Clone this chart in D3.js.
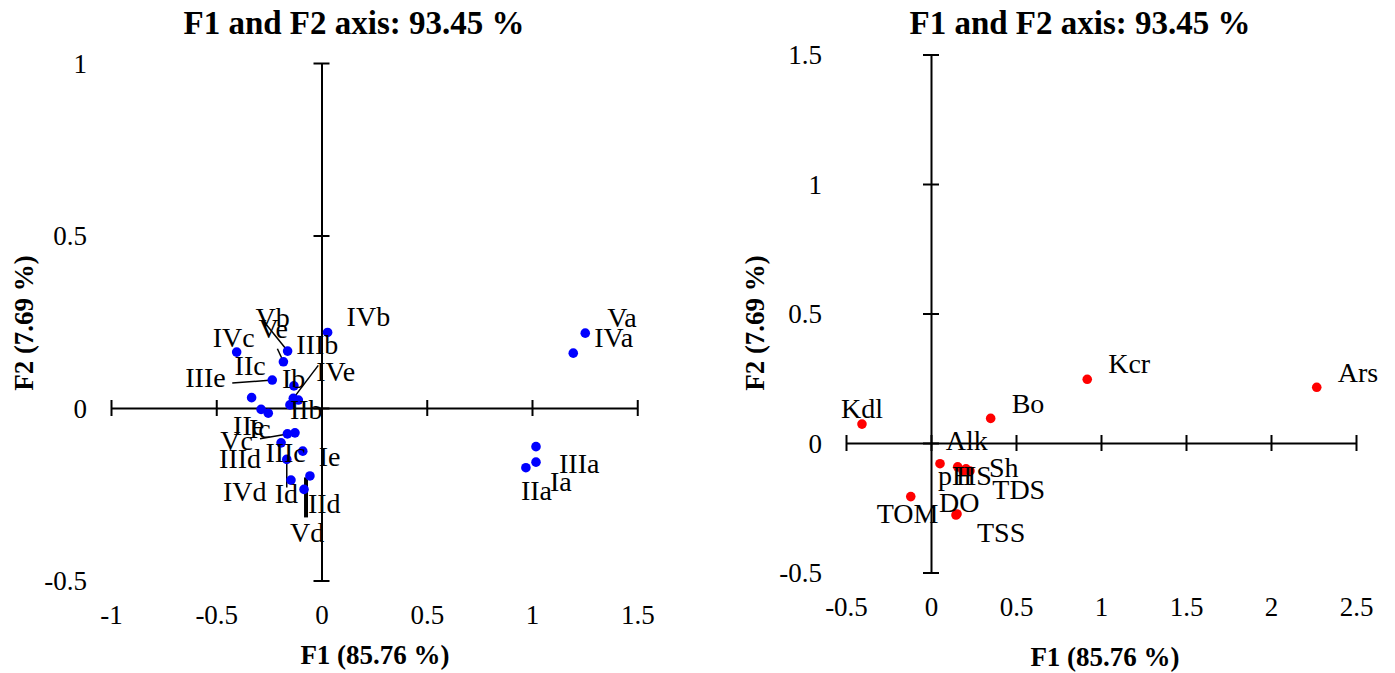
<!DOCTYPE html>
<html>
<head>
<meta charset="utf-8">
<script src="https://cdn.jsdelivr.net/npm/d3@7"></script>
<style>
  body { margin: 0; background: #fff; }
  svg { display: block; font-family: "Liberation Serif", "Times New Roman", serif; }
</style>
</head>
<body>
<svg id="chart" width="1395" height="673"></svg>
<script>
// observations plot (left) - F1 / F2 coordinates
var obsLabels = ["Va", "IVa", "IIIa", "Ia", "IIa", "IVb", "IVc", "Vb", "Ve", "IIIe", "Ib", "IIc", "IVe",
                 "IIIb", "IIb", "IIe", "Vc", "Ic", "IIIc", "IIId", "Ie", "Id", "IId", "IVd", "Vd"];
var obsF1 = [1.253, 1.196, 1.019, 1.019, 0.971, 0.029, -0.403, -0.161, -0.181, -0.234, -0.131, -0.332, -0.134,
             -0.110, -0.150, -0.287, -0.253, -0.126, -0.162, -0.192, -0.089, -0.165, -0.055, -0.145, -0.083];
var obsF2 = [0.217, 0.159, -0.112, -0.157, -0.173, 0.219, 0.162, 0.165, 0.134, 0.081, 0.064, 0.030, 0.028,
             0.023, 0.009, -0.004, -0.015, -0.072, -0.075, -0.101, -0.125, -0.149, -0.197, -0.209, -0.236];

// variables plot (right)
var varLabels = ["Kdl", "Bo", "Kcr", "Ars", "TOM", "pH", "Alk", "HS", "TDS", "Sh", "DO", "TSS"];
var varF1 = [-0.406, 0.351, 0.919, 2.269, -0.119, 0.053, 0.157, 0.206, 0.190, 0.229, 0.147, 0.153];
var varF2 = [0.073, 0.095, 0.246, 0.215, -0.207, -0.080, -0.092, -0.100, -0.108, -0.108, -0.278, -0.274];

var leftXTicks = [-1, -0.5, 0, 0.5, 1, 1.5];
var leftYTicks = [-0.5, 0, 0.5, 1];
var rightXTicks = [-0.5, 0, 0.5, 1, 1.5, 2, 2.5];
var rightYTicks = [-0.5, 0, 0.5, 1, 1.5];

var chartTitle = "F1 and F2 axis: 93.45 %";
var xTitle = "F1 (85.76 %)";
var yTitle = "F2 (7.69 %)";

// label placement (pixel offsets from the point), like the xlstat label layout
var obsLabelPos = {
  Va: [22, -6], IVa: [21, -6], IIIa: [23, 26], Ia: [14, 29], IIa: [-5, 32],
  IVb: [19, -6], IVc: [-24, -5], Vb: [-32, -24], Ve: [-25, -24], IIIe: [-87, 7],
  Ib: [-12, 2], IIc: [-17, -23], IVe: [23, -17], IIIb: [-2, -46], IIb: [0, 14],
  IIe: [-28, 26], Vc: [-48, 37], Ic: [-46, 5], IIIc: [-22, 28], IIId: [-62, 25],
  Ie: [16, 15], Id: [-12, 44], IId: [-2, 37], IVd: [-68, 21], Vd: [-14, 53]
};
// leader lines: [start dx, start dy, end dx, end dy] from the point
var obsLeaders = {
  Vb: [-25, -31, 0, 0], Ve: [-6, -13, 0, 0], IIIe: [-40, 3, 0, 0], IVe: [25, -33, 0, 0],
  Ic: [-35, 6, 0, 0], Id: [0, 28, 0, 0], Vd: [2, 28, 2, -12]
};
var varLabelPos = {
  Kdl: [-21, -6], Bo: [21, -5], Kcr: [21, -6], Ars: [21, -5], TOM: [-34, 26],
  pH: [-2, 21], Alk: [-12, -17], HS: [-10, 16], TDS: [29, 28], Sh: [19, 6],
  DO: [-17, -3], TSS: [20, 28]
};

var svg = d3.select("#chart");
svg.append("rect").attr("width", 1395).attr("height", 673).attr("fill", "#fff");

function fmt(d) { return String(d); }

function drawPanel(opt) {
  var x = d3.scaleLinear().domain(opt.xDomain).range(opt.xRange);
  var y = d3.scaleLinear().domain(opt.yDomain).range(opt.yRange);
  var g = svg.append("g");

  // horizontal axis through F2 = 0
  var xAxis = g.append("g")
    .attr("transform", "translate(0," + y(0) + ")")
    .call(d3.axisBottom(x).tickValues(opt.xTicks).tickFormat(fmt).tickSizeOuter(0));
  xAxis.selectAll(".tick line").attr("y1", -8).attr("y2", 8);
  xAxis.selectAll(".tick text").attr("y", opt.xLabelY - y(0)).attr("dy", "0.35em");

  // vertical axis through F1 = 0
  var yAxis = g.append("g")
    .attr("transform", "translate(" + x(0) + ",0)")
    .call(d3.axisLeft(y).tickValues(opt.yTicks).tickFormat(fmt).tickSizeOuter(0));
  yAxis.selectAll(".tick line").attr("x1", -8).attr("x2", 8);
  yAxis.selectAll(".tick text").attr("x", opt.yLabelX - x(0)).attr("dy", "0.35em");

  [xAxis, yAxis].forEach(function(a) {
    a.attr("font-family", null).attr("font-size", null);
    a.selectAll("path, line").attr("stroke", "#000").attr("stroke-width", 2);
    a.selectAll("text").attr("fill", "#000").style("font-size", "27px");
  });

  // titles
  g.append("text").attr("x", opt.cx).attr("y", 34).attr("text-anchor", "middle")
    .style("font-size", "33px").style("font-weight", "bold").text(chartTitle);
  g.append("text").attr("x", opt.xTitleX).attr("y", opt.xTitleY).attr("text-anchor", "middle")
    .attr("dy", "0.35em").style("font-size", "27px").style("font-weight", "bold").text(xTitle);
  g.append("text").attr("transform", "translate(" + opt.yTitleX + "," + opt.yTitleY + ") rotate(-90)")
    .attr("text-anchor", "middle").attr("dy", "0.35em")
    .style("font-size", "27px").style("font-weight", "bold").text(yTitle);

  var pts = opt.labels.map(function(l, i) { return { label: l, f1: opt.f1[i], f2: opt.f2[i] }; });

  // leader lines
  g.selectAll(".leader").data(pts.filter(function(d) { return opt.leaders && opt.leaders[d.label]; }))
    .enter().append("line")
    .attr("x1", function(d) { return x(d.f1) + opt.leaders[d.label][0]; })
    .attr("y1", function(d) { return y(d.f2) + opt.leaders[d.label][1]; })
    .attr("x2", function(d) { return x(d.f1) + opt.leaders[d.label][2]; })
    .attr("y2", function(d) { return y(d.f2) + opt.leaders[d.label][3]; })
    .attr("stroke", "#000").attr("stroke-width", function(d) {
      return d.label == "Vd" ? 4 : 1.5;
    });

  g.selectAll(".pt").data(pts).enter().append("circle")
    .attr("cx", function(d) { return x(d.f1); })
    .attr("cy", function(d) { return y(d.f2); })
    .attr("r", 4.8)
    .attr("fill", opt.color);

  g.selectAll(".lbl").data(pts).enter().append("text")
    .attr("x", function(d) { return x(d.f1) + opt.labelPos[d.label][0]; })
    .attr("y", function(d) { return y(d.f2) + opt.labelPos[d.label][1]; })
    .style("font-size", "28px")
    .text(function(d) { return d.label; });
}

drawPanel({
  xDomain: [-1, 1.5], xRange: [111, 637.25],
  yDomain: [-0.5, 1], yRange: [580.5, 63],
  xTicks: leftXTicks, yTicks: leftYTicks,
  xLabelY: 615, yLabelX: 87,
  cx: 354, xTitleX: 375, xTitleY: 655, yTitleX: 24, yTitleY: 323,
  labels: obsLabels, f1: obsF1, f2: obsF2,
  labelPos: obsLabelPos, leaders: obsLeaders, color: "#0000ff"
});

drawPanel({
  xDomain: [-0.5, 2.5], xRange: [846, 1356],
  yDomain: [-0.5, 1.5], yRange: [572.5, 54.5],
  xTicks: rightXTicks, yTicks: rightYTicks,
  xLabelY: 607, yLabelX: 822,
  cx: 1080, xTitleX: 1105, xTitleY: 657, yTitleX: 755, yTitleY: 323,
  labels: varLabels, f1: varF1, f2: varF2,
  labelPos: varLabelPos, leaders: null, color: "#ff0000"
});
</script>
</body>
</html>
